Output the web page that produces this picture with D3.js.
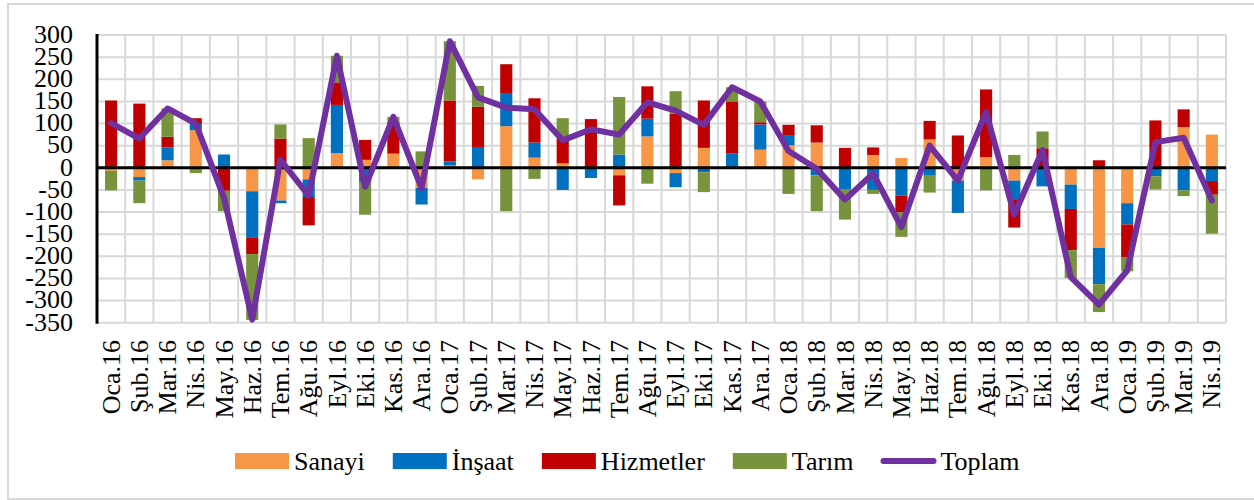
<!DOCTYPE html>
<html>
<head>
<meta charset="utf-8">
<script src="https://cdn.jsdelivr.net/npm/d3@7"></script>
<style>
  body { margin: 0; background: #fff; }
  text { font-family: "Liberation Serif", "Times New Roman", serif; fill: #000; }
</style>
</head>
<body>
<script>
  // months on the x axis
  const months = ["Oca.16","Şub.16","Mar.16","Nis.16","May.16","Haz.16","Tem.16","Ağu.16","Eyl.16","Eki.16",
    "Kas.16","Ara.16","Oca.17","Şub.17","Mar.17","Nis.17","May.17","Haz.17","Tem.17","Ağu.17",
    "Eyl.17","Eki.17","Kas.17","Ara.17","Oca.18","Şub.18","Mar.18","Nis.18","May.18","Haz.18",
    "Tem.18","Ağu.18","Eyl.18","Eki.18","Kas.18","Ara.18","Oca.19","Şub.19","Mar.19","Nis.19"];
  // series values
  const sanayi    = [-7,-21,17,85,0,-53,-74,-26,33,18, 32,-45,5,-26,94,23,10,0,-17,71, -12,45,0,41,51,57,0,29,22,64, -29,24,-29,0,-38,-181,-80,0,92,75];
  const insaat    = [0,-8,29,14,30,-104,-6,-40,109,-32, 0,-38,9,47,75,34,-50,-23,30,40, -32,-10,33,57,23,-17,-48,-50,-63,-18, -73,0,-42,-42,-55,-82,-48,-19,-51,-30];
  const hizmetler = [152,145,24,13,-52,-38,66,-64,51,45, 72,0,138,91,65,100,55,110,-68,73, 122,107,117,5,23,39,45,17,-38,42, 73,153,-64,44,-93,17,-75,107,40,-31];
  const tarim     = [-44,-51,64,-12,-46,-149,32,67,60,-74, 11,37,134,47,-98,-25,47,0,130,-36, 51,-45,32,47,-59,-81,-69,-9,-55,-38, 0,-51,29,38,-63,-63,-31,-30,-13,-88];
  const toplam    = [101,66,134,100,-68,-343,18,-63,253,-43, 115,-46,286,159,136,132,62,87,75,148, 129,97,182,150,38,-2,-72,-13,-134,50, -29,126,-106,40,-247,-309,-232,58,68,-74];
  const yTicks = [300,250,200,150,100,50,0,-50,-100,-150,-200,-250,-300,-350];

  const seriesNames = ["Sanayi","İnşaat","Hizmetler","Tarım"];
  const seriesColors = ["#F79646","#0070C0","#C00000","#77933C"];
  const lineColor = "#7030A0";

  const W = 1254, H = 500;
  const plot = {left: 97, right: 1226, top: 35, bottom: 322.7};

  const svg = d3.select('body').append('svg')
    .attr('width', W).attr('height', H);

  // outer chart border
  svg.append('rect')
    .attr('x', 8).attr('y', 4).attr('width', 1250).attr('height', 495)
    .attr('fill', 'none').attr('stroke', '#d9d9d9').attr('stroke-width', 2);

  const x = d3.scaleBand().domain(months).range([plot.left, plot.right]).paddingInner(0.57).paddingOuter(0.285);
  const xb = d3.scaleBand().domain(months).range([plot.left, plot.right]);
  const y = d3.scaleLinear().domain([-350, 300]).range([plot.bottom, plot.top]);

  // table for d3.stack
  const rows = months.map((m, i) => ({
    month: m, "Sanayi": sanayi[i], "İnşaat": insaat[i], "Hizmetler": hizmetler[i], "Tarım": tarim[i]
  }));
  const stacked = d3.stack().keys(seriesNames).offset(d3.stackOffsetDiverging)(rows);

  // gridlines
  const grid = svg.append('g').attr('stroke', '#d9d9d9').attr('stroke-width', 2);
  grid.selectAll('line.h').data(yTicks).enter().append('line')
    .attr('x1', plot.left).attr('x2', plot.right)
    .attr('y1', d => y(d)).attr('y2', d => y(d));
  grid.selectAll('line.v').data(months.concat(['end'])).enter().append('line')
    .attr('x1', (d, i) => i < months.length ? xb(d) : plot.right)
    .attr('x2', (d, i) => i < months.length ? xb(d) : plot.right)
    .attr('y1', plot.top).attr('y2', plot.bottom);

  // stacked bars
  svg.append('g').selectAll('g').data(stacked).enter().append('g')
    .attr('fill', (d, i) => seriesColors[i])
    .selectAll('rect').data(d => d).enter().append('rect')
      .attr('x', d => x(d.data.month))
      .attr('width', x.bandwidth())
      .attr('y', d => y(d[1]))
      .attr('height', d => Math.abs(y(d[0]) - y(d[1])));

  // zero line and y axis line
  svg.append('line').attr('x1', plot.left).attr('x2', plot.right)
    .attr('y1', y(0)).attr('y2', y(0)).attr('stroke', '#000').attr('stroke-width', 3);
  svg.append('line').attr('x1', plot.left).attr('x2', plot.left)
    .attr('y1', plot.top - 1).attr('y2', plot.bottom + 1).attr('stroke', '#000').attr('stroke-width', 3);

  // y tick labels
  svg.append('g').selectAll('text').data(yTicks).enter().append('text')
    .attr('x', 73).attr('y', d => y(d)).attr('dy', '0.3em')
    .attr('text-anchor', 'end').style('font-size', '26px')
    .text(d => d);

  // x labels, rotated
  svg.append('g').selectAll('text').data(months).enter().append('text')
    .attr('transform', d => `translate(${xb(d) + xb.bandwidth() / 2},340) rotate(-90)`)
    .attr('dy', '0.33em').attr('text-anchor', 'end').style('font-size', '26px')
    .text(d => d);

  // total line
  const line = d3.line()
    .x((d, i) => xb(months[i]) + xb.bandwidth() / 2)
    .y(d => y(d));
  svg.append('path').datum(toplam)
    .attr('d', line).attr('fill', 'none')
    .attr('stroke', lineColor).attr('stroke-width', 6)
    .attr('stroke-linejoin', 'round').attr('stroke-linecap', 'round');

  // legend
  const legend = svg.append('g').attr('transform', 'translate(235,0)');
  const items = seriesNames.map((n, i) => ({name: n, color: seriesColors[i], type: 'rect'}))
    .concat([{name: 'Toplam', color: lineColor, type: 'line'}]);
  let lx = 0;
  items.forEach(it => {
    const g = legend.append('g').attr('transform', `translate(${lx},0)`);
    if (it.type === 'rect') {
      g.append('rect').attr('x', 0).attr('y', 453).attr('width', 54).attr('height', 16)
        .attr('fill', it.color);
    } else {
      g.append('line').attr('x1', 2).attr('x2', 52).attr('y1', 461).attr('y2', 461)
        .attr('stroke', it.color).attr('stroke-width', 6).attr('stroke-linecap', 'round');
    }
    const t = g.append('text').attr('x', 59).attr('y', 469.5).style('font-size', '26px').text(it.name);
    lx += 59 + t.node().getComputedTextLength() + 28;
  });
</script>
</body>
</html>
